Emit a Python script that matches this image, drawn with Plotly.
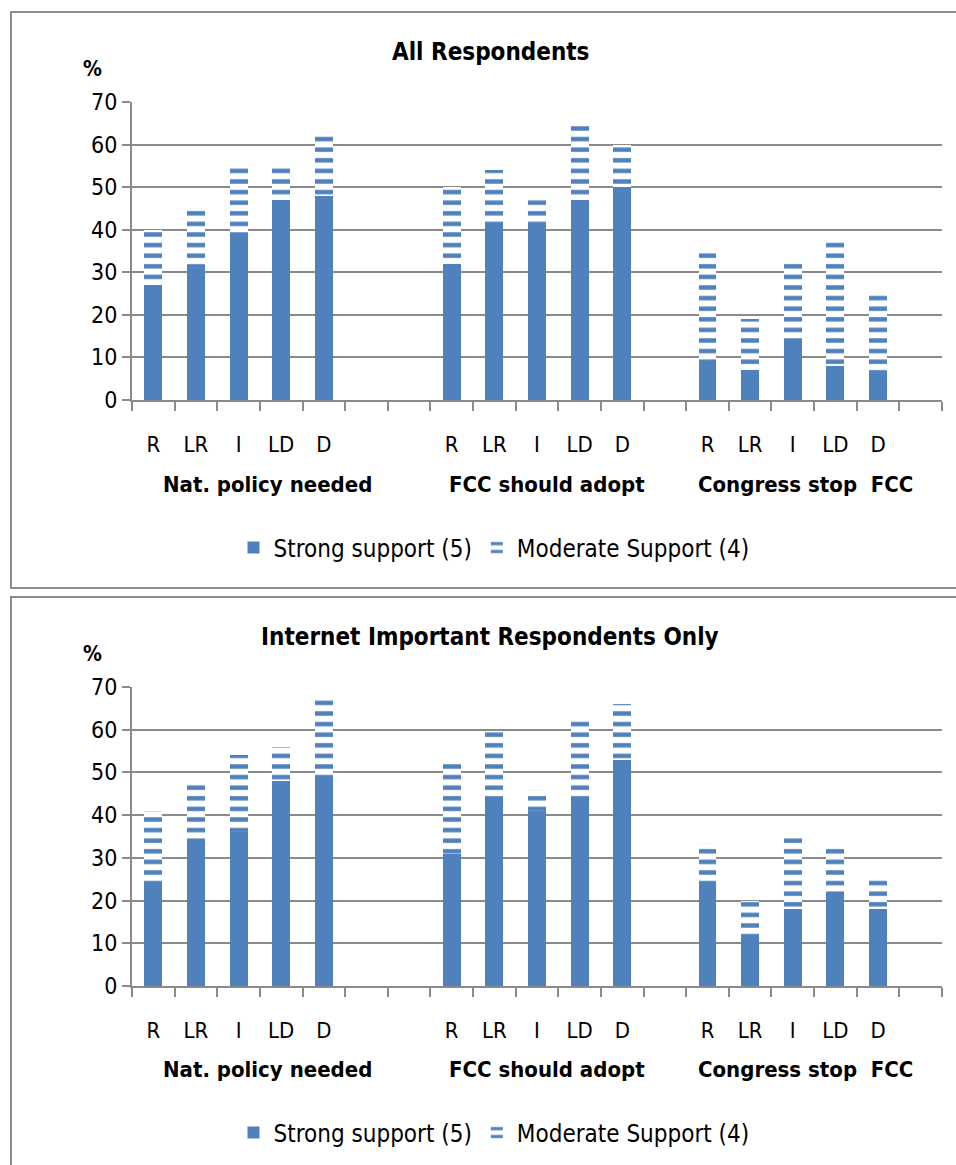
import plotly.graph_objects as go

# Category slots along the x axis (blank strings are spacer slots between question groups)
slot_labels = ["R", "LR", "I", "LD", "D", "", "",
               "R", "LR", "I", "LD", "D", "",
               "R", "LR", "I", "LD", "D", ""]
question_groups = ["Nat. policy needed", "FCC should adopt", "Congress stop\u00a0\u00a0FCC"]

# All respondents (%)
all_strong = [27, 31, 39, 47, 48, 32, 41, 41, 47, 50, 9, 7, 14, 8, 6]
all_moderate = [13, 14, 16, 8, 15, 18, 13, 6, 18, 10, 26.5, 12, 18.5, 29.5, 19]

# Internet-important respondents only (%)
net_strong = [24, 34, 36, 48, 49, 31, 44, 41, 44, 53, 24, 12, 18, 22, 18]
net_moderate = [17, 14, 18, 8, 19, 22, 15.5, 5, 19, 13, 9.5, 8, 17, 11, 8]

series_names = ["Strong support (5)", "Moderate Support (4)"]
panel_titles = ["All Respondents", "Internet Important Respondents Only"]
y_ticks = [0, 10, 20, 30, 40, 50, 60, 70]

W, H = 956, 1165
BLUE = "#4F81BD"
GRID = "#8a8a8a"
FONT = "Liberation Sans Narrow, DejaVu Sans Condensed, Liberation Sans, sans-serif"

bar_x = [i for i, s in enumerate(slot_labels) if s]
bar_text = [s for s in slot_labels if s]


def px(x):
    return x / W


def py(y):
    return 1 - y / H


fig = go.Figure()

panels = [
    dict(strong=all_strong, moderate=all_moderate, xa="x", ya="y", legend="legend",
         y0=400, y70=102, top=12, bottom=588, title_y=52, label_y=485, legend_y=548),
    dict(strong=net_strong, moderate=net_moderate, xa="x2", ya="y2", legend="legend2",
         y0=986, y70=687, top=597, bottom=1180, title_y=637, label_y=1069, legend_y=1133),
]

for k, p in enumerate(panels):
    fig.add_trace(go.Bar(
        x=bar_x, y=p["strong"], name=series_names[0], xaxis=p["xa"], yaxis=p["ya"],
        marker=dict(color=BLUE, line=dict(width=0)), width=0.42,
        legend=p["legend"], hoverinfo="y",
    ))
    fig.add_trace(go.Bar(
        x=bar_x, y=p["moderate"], name=series_names[1], xaxis=p["xa"], yaxis=p["ya"],
        marker=dict(color="white", line=dict(width=0),
                    pattern=dict(shape="-", fgcolor=BLUE, bgcolor="white",
                                 size=10.6, solidity=0.42, fillmode="replace")),
        width=0.42, legend=p["legend"], hoverinfo="y",
    ))

    sfx = "" if k == 0 else "2"
    dom_y = [py(p["y0"]), py(p["y70"])]
    fig.update_layout(**{
        "xaxis" + sfx: dict(
            domain=[px(132), px(942)], range=[-0.5, len(slot_labels) - 0.5],
            anchor="y" + sfx, showgrid=False, zeroline=False, automargin=False,
            showline=True, linecolor=GRID, linewidth=2,
            tickmode="array", tickvals=bar_x, ticktext=bar_text, ticks="",
            ticklabelstandoff=24,
            tickfont=dict(family=FONT, size=22, color="black"),
            minor=dict(tickmode="linear", tick0=-0.5, dtick=1, ticks="outside",
                       ticklen=9, tickwidth=2, tickcolor=GRID, showgrid=False),
        ),
        "yaxis" + sfx: dict(
            domain=dom_y, range=[0, 70], anchor="x" + sfx, automargin=False,
            tickmode="array", tickvals=y_ticks,
            showgrid=True, gridcolor=GRID, gridwidth=2,
            zeroline=False, showline=True, linecolor=GRID, linewidth=2,
            ticks="outside", ticklen=8, tickwidth=2, tickcolor=GRID,
            tickfont=dict(family=FONT, size=23, color="black"),
        ),
    })

    # panel frame
    fig.add_shape(type="rect", xref="paper", yref="paper",
                  x0=px(11), x1=px(W + 20), y0=py(p["bottom"]), y1=py(p["top"]),
                  line=dict(color="#8c8c8c", width=2), layer="below")
    # panel title
    fig.add_annotation(text="<b>" + panel_titles[k] + "</b>", xref="paper", yref="paper",
                       x=px(490), y=py(p["title_y"]), showarrow=False,
                       xanchor="center", yanchor="middle",
                       font=dict(family=FONT, size=24, color="black"))
    # axis unit
    fig.add_annotation(text="<b>%</b>", xref="paper", yref="paper",
                       x=px(92), y=py(p["title_y"] + 17), showarrow=False,
                       xanchor="center", yanchor="middle",
                       font=dict(family=FONT, size=21, color="black"))
    # question group labels
    for name, cx in zip(question_groups, [267, 547, 805]):
        fig.add_annotation(text="<b>" + name + "</b>", xref="paper", yref="paper",
                           x=px(cx), y=py(p["label_y"]), showarrow=False,
                           xanchor="center", yanchor="middle",
                           font=dict(family=FONT, size=22, color="black"))

legend_style = dict(orientation="h", xanchor="center", yanchor="middle",
                    font=dict(family=FONT, size=24, color="black"),
                    bgcolor="rgba(0,0,0,0)", traceorder="normal",
                    itemwidth=30, entrywidth=0)
fig.update_layout(
    width=W, height=H, margin=dict(l=0, r=0, t=0, b=0, autoexpand=False),
    paper_bgcolor="white", plot_bgcolor="white",
    barmode="stack", showlegend=True,
    legend=dict(x=px(494), y=py(panels[0]["legend_y"]), **legend_style),
    legend2=dict(x=px(494), y=py(panels[1]["legend_y"]), **legend_style),
)

fig.write_html("out.html")
